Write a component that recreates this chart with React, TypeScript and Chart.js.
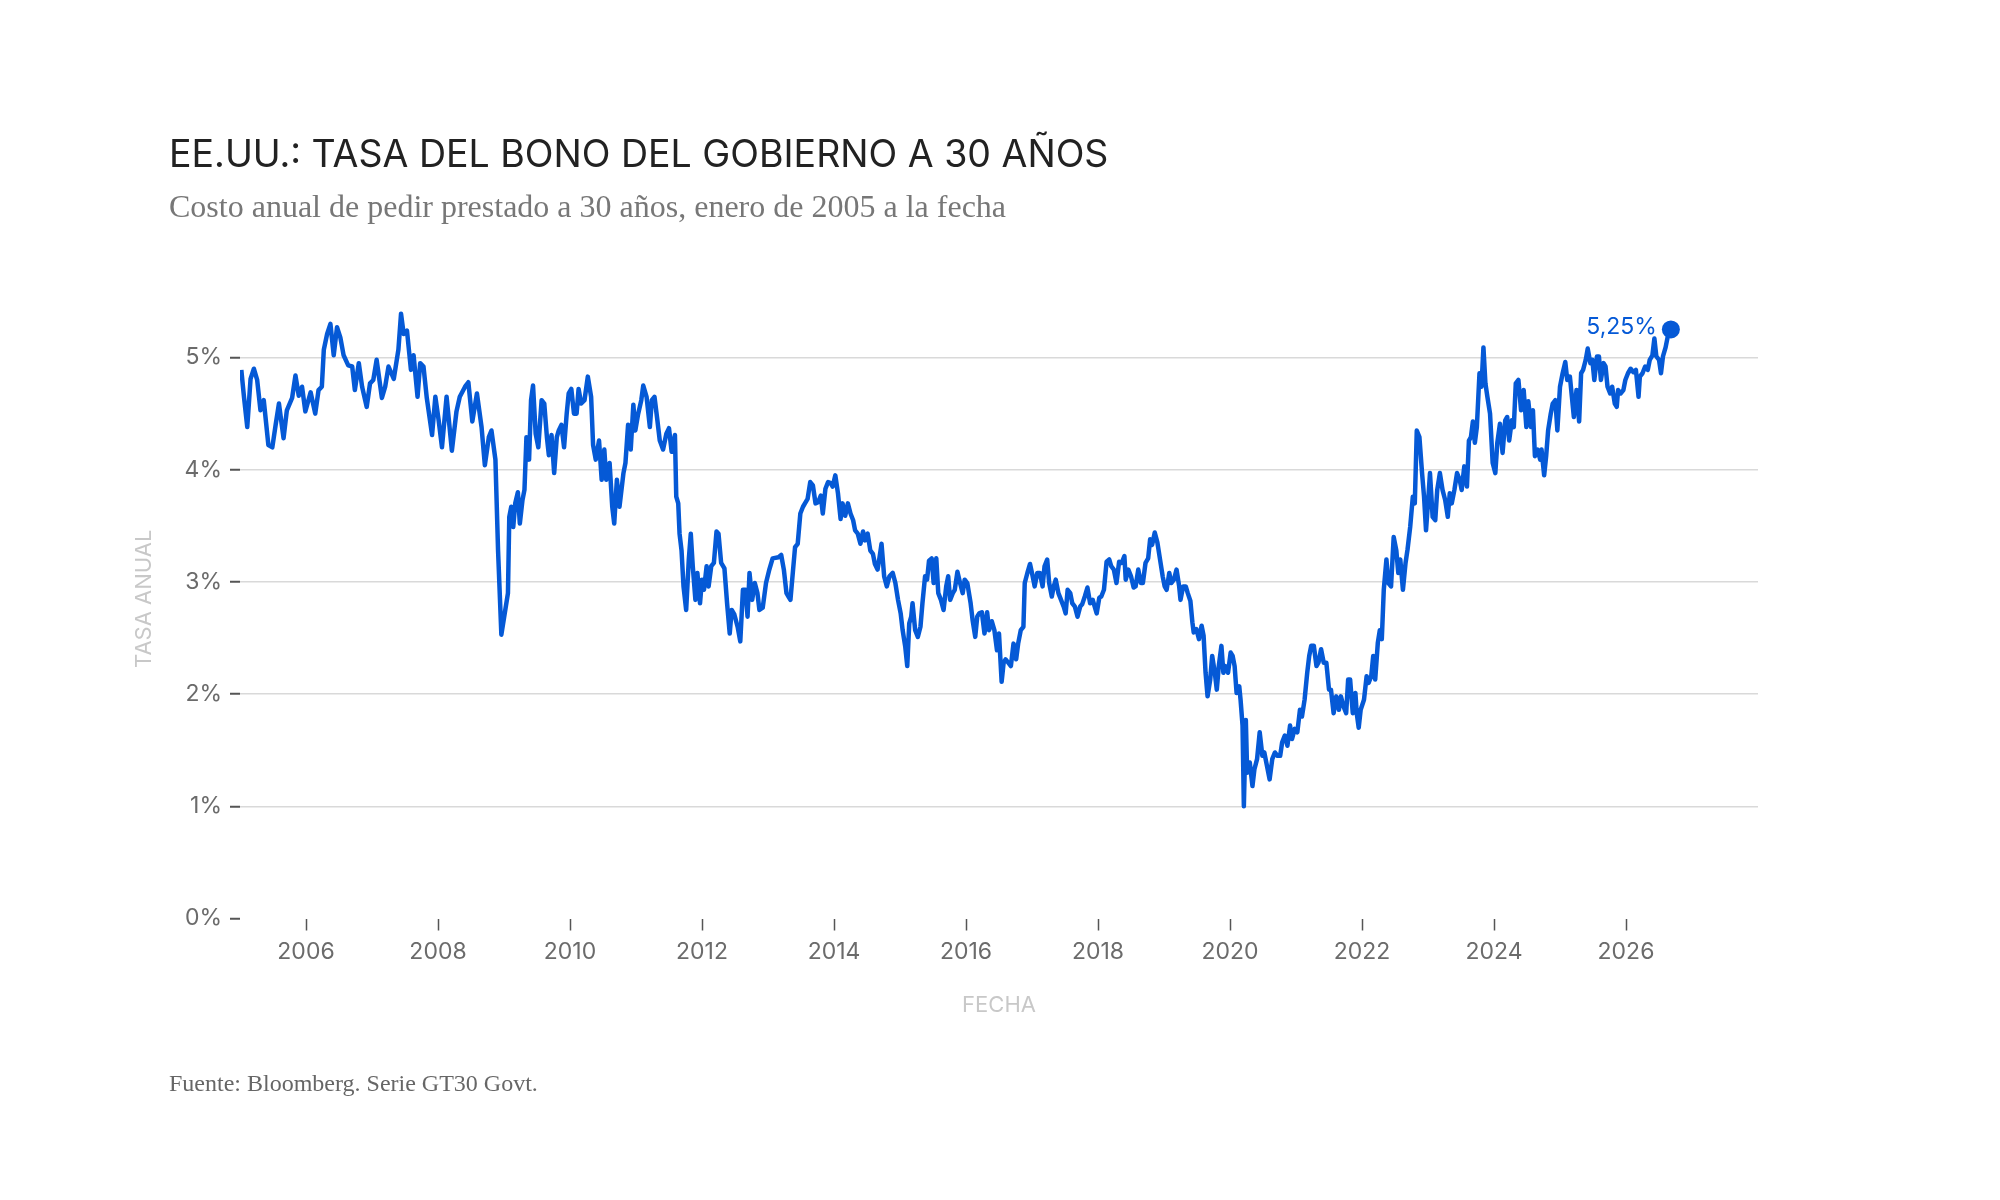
import { useEffect, useRef } from 'react';
import { Chart, registerables } from 'chart.js';

Chart.register(...registerables);

// fechas en años decimales y tasa del bono a 30 años (%)
const years = [
  2005.02, 2005.06, 2005.11, 2005.16, 2005.21, 2005.26, 2005.31, 2005.36, 2005.43, 2005.49,
  2005.54, 2005.59, 2005.66, 2005.71, 2005.79, 2005.84, 2005.89, 2005.94, 2005.99, 2006.07,
  2006.14, 2006.19, 2006.24, 2006.27, 2006.32, 2006.37, 2006.42, 2006.47, 2006.52, 2006.57,
  2006.64, 2006.70, 2006.74, 2006.80, 2006.85, 2006.92, 2006.97, 2007.02, 2007.07, 2007.15,
  2007.20, 2007.25, 2007.33, 2007.40, 2007.44, 2007.48, 2007.53, 2007.59, 2007.63, 2007.69,
  2007.73, 2007.78, 2007.83, 2007.91, 2007.96, 2008.01, 2008.06, 2008.13, 2008.21, 2008.28,
  2008.33, 2008.41, 2008.46, 2008.52, 2008.59, 2008.66, 2008.71, 2008.77, 2008.81, 2008.87,
  2008.91, 2008.96,
  2009.06, 2009.08, 2009.11, 2009.14, 2009.17, 2009.21, 2009.24, 2009.28, 2009.31, 2009.34,
  2009.38, 2009.41, 2009.44, 2009.48, 2009.52, 2009.57, 2009.61, 2009.65, 2009.68, 2009.72,
  2009.76, 2009.80, 2009.83, 2009.87, 2009.91, 2009.95, 2009.98, 2010.02, 2010.06, 2010.10,
  2010.13, 2010.17, 2010.22, 2010.27, 2010.32, 2010.35, 2010.39, 2010.44, 2010.48, 2010.52,
  2010.55, 2010.60, 2010.64, 2010.67, 2010.71, 2010.75, 2010.81, 2010.84, 2010.88, 2010.92,
  2010.96, 2010.99, 2011.03, 2011.08, 2011.11, 2011.16, 2011.21, 2011.24, 2011.28, 2011.32,
  2011.36, 2011.41, 2011.46, 2011.50, 2011.54, 2011.59, 2011.61, 2011.64, 2011.66, 2011.69,
  2011.72, 2011.76, 2011.80, 2011.83, 2011.86, 2011.90, 2011.93, 2011.97, 2012.00, 2012.03,
  2012.07, 2012.10, 2012.14, 2012.18, 2012.22, 2012.25, 2012.29, 2012.34, 2012.38, 2012.42,
  2012.45, 2012.49, 2012.54, 2012.58, 2012.62, 2012.66, 2012.69, 2012.72, 2012.76, 2012.80,
  2012.84, 2012.87, 2012.92, 2012.97, 2013.02, 2013.07,
  2013.16, 2013.20, 2013.24, 2013.28, 2013.31, 2013.34, 2013.38, 2013.41, 2013.45, 2013.49,
  2013.53, 2013.56, 2013.60, 2013.64, 2013.68, 2013.72, 2013.76, 2013.80, 2013.83, 2013.87,
  2013.91, 2013.95, 2013.98, 2014.02, 2014.06, 2014.10, 2014.13, 2014.17, 2014.21, 2014.25,
  2014.29, 2014.32, 2014.36, 2014.40, 2014.44, 2014.47, 2014.51, 2014.55, 2014.59, 2014.62,
  2014.66, 2014.69, 2014.72, 2014.76, 2014.80, 2014.84, 2014.89, 2014.93, 2014.97, 2015.01,
  2015.04, 2015.08, 2015.11, 2015.14, 2015.17, 2015.19, 2015.23, 2015.27, 2015.31, 2015.34,
  2015.38, 2015.41, 2015.44, 2015.48, 2015.51, 2015.55, 2015.58, 2015.62, 2015.66, 2015.70,
  2015.73, 2015.76, 2015.80, 2015.83, 2015.87, 2015.91, 2015.95, 2015.98, 2016.02, 2016.07,
  2016.10, 2016.14, 2016.17, 2016.20, 2016.24, 2016.28, 2016.32, 2016.35, 2016.39, 2016.43,
  2016.47, 2016.50, 2016.54, 2016.57, 2016.60, 2016.64, 2016.68, 2016.72, 2016.76, 2016.79,
  2016.83, 2016.87, 2016.89, 2016.93, 2016.97, 2017.01, 2017.04, 2017.08, 2017.12, 2017.16,
  2017.19, 2017.23, 2017.26, 2017.30, 2017.33, 2017.36, 2017.40, 2017.44, 2017.48, 2017.51,
  2017.54, 2017.58, 2017.61, 2017.65, 2017.69, 2017.73, 2017.76, 2017.80, 2017.84, 2017.88,
  2017.92, 2017.95, 2017.98, 2018.02, 2018.05, 2018.09, 2018.13, 2018.17, 2018.20, 2018.24,
  2018.28, 2018.32, 2018.36, 2018.40, 2018.42, 2018.46, 2018.50, 2018.54, 2018.57, 2018.61,
  2018.65, 2018.68, 2018.72, 2018.76, 2018.79, 2018.82, 2018.86, 2018.90, 2018.94, 2018.98,
  2019.01, 2019.04, 2019.08, 2019.11, 2019.15, 2019.19, 2019.23, 2019.25, 2019.29, 2019.33,
  2019.36, 2019.40, 2019.43, 2019.45, 2019.49, 2019.53, 2019.57, 2019.60, 2019.63, 2019.66,
  2019.70, 2019.73, 2019.77, 2019.80, 2019.83, 2019.87, 2019.90, 2019.93, 2019.97, 2020.01,
  2020.04, 2020.07, 2020.10, 2020.14, 2020.16, 2020.19, 2020.21, 2020.24, 2020.26, 2020.30,
  2020.34, 2020.37, 2020.41, 2020.45, 2020.49, 2020.52, 2020.56, 2020.60, 2020.64, 2020.68,
  2020.72, 2020.76, 2020.79, 2020.83, 2020.87, 2020.91, 2020.94, 2020.98, 2021.02, 2021.06,
  2021.09, 2021.13, 2021.17, 2021.20, 2021.23,
  2021.27, 2021.31, 2021.34, 2021.38, 2021.42, 2021.46, 2021.50, 2021.53, 2021.57, 2021.61,
  2021.65, 2021.68, 2021.72, 2021.76, 2021.79, 2021.82, 2021.86, 2021.90, 2021.92, 2021.95,
  2021.98, 2022.03, 2022.07, 2022.10, 2022.14, 2022.17, 2022.20, 2022.24, 2022.27, 2022.30,
  2022.33, 2022.37, 2022.40, 2022.44, 2022.48, 2022.52, 2022.55, 2022.58, 2022.62, 2022.66,
  2022.69, 2022.73, 2022.77, 2022.80, 2022.83, 2022.87, 2022.91, 2022.94, 2022.97, 2023.01,
  2023.03, 2023.07, 2023.11, 2023.14, 2023.18, 2023.22, 2023.26, 2023.30, 2023.33, 2023.36,
  2023.40, 2023.44, 2023.48, 2023.51, 2023.55, 2023.59, 2023.62, 2023.65, 2023.68, 2023.71,
  2023.74, 2023.78, 2023.81, 2023.84, 2023.87, 2023.90, 2023.94, 2023.98, 2024.02, 2024.05,
  2024.09, 2024.13, 2024.17, 2024.20, 2024.23, 2024.27, 2024.30, 2024.33, 2024.37, 2024.41,
  2024.45, 2024.49, 2024.52, 2024.56, 2024.59, 2024.62, 2024.66, 2024.70, 2024.72, 2024.76,
  2024.79, 2024.82, 2024.86, 2024.89, 2024.93, 2024.96, 2025.00, 2025.04, 2025.08, 2025.11,
  2025.15, 2025.18, 2025.21, 2025.25, 2025.29,
  2025.32, 2025.35, 2025.39, 2025.42, 2025.46, 2025.49, 2025.52, 2025.56, 2025.59, 2025.62,
  2025.66, 2025.69, 2025.72, 2025.76, 2025.79, 2025.83, 2025.86, 2025.88, 2025.92, 2025.96,
  2025.99, 2026.03, 2026.07, 2026.11, 2026.15, 2026.19, 2026.21, 2026.25, 2026.29, 2026.33,
  2026.36, 2026.40, 2026.43, 2026.46, 2026.50, 2026.53, 2026.56, 2026.60, 2026.63, 2026.68,
];

const rates = [
  4.89, 4.65, 4.38, 4.81, 4.90, 4.80, 4.53, 4.62, 4.22, 4.20,
  4.40, 4.59, 4.28, 4.53, 4.64, 4.84, 4.66, 4.74, 4.52, 4.69,
  4.50, 4.71, 4.74, 5.07, 5.21, 5.30, 5.02, 5.27, 5.18, 5.02,
  4.93, 4.92, 4.71, 4.95, 4.74, 4.56, 4.77, 4.80, 4.98, 4.64,
  4.74, 4.92, 4.81, 5.07, 5.39, 5.21, 5.24, 4.89, 5.02, 4.65,
  4.95, 4.92, 4.64, 4.31, 4.65, 4.44, 4.20, 4.65, 4.17, 4.52,
  4.65, 4.74, 4.78, 4.43, 4.68, 4.38, 4.04, 4.29, 4.35, 4.09,
  3.28, 2.53,
  2.90, 3.58, 3.67, 3.49, 3.70, 3.80, 3.52, 3.73, 3.82, 4.29,
  4.09, 4.62, 4.75, 4.32, 4.20, 4.62, 4.59, 4.29, 4.13, 4.31,
  3.97, 4.29, 4.35, 4.40, 4.20, 4.50, 4.68, 4.72, 4.50, 4.50,
  4.72, 4.59, 4.62, 4.83, 4.65, 4.22, 4.09, 4.26, 3.91, 4.18,
  3.91, 4.06, 3.67, 3.52, 3.91, 3.67, 3.97, 4.06, 4.40, 4.18,
  4.58, 4.35, 4.49, 4.62, 4.75, 4.65, 4.38, 4.62, 4.65, 4.46,
  4.26, 4.18, 4.32, 4.37, 4.16, 4.31, 3.76, 3.70, 3.43, 3.28,
  2.96, 2.75, 3.20, 3.43, 3.14, 2.84, 3.08, 2.81, 3.02, 2.93,
  3.14, 2.96, 3.14, 3.17, 3.45, 3.43, 3.17, 3.12, 2.81, 2.54,
  2.75, 2.71, 2.60, 2.47, 2.93, 2.93, 2.69, 3.08, 2.84, 2.99,
  2.90, 2.75, 2.77, 2.99, 3.11, 3.21,
  3.22, 3.24, 3.11, 2.90, 2.87, 2.84, 3.11, 3.31, 3.34, 3.61,
  3.67, 3.70, 3.74, 3.89, 3.86, 3.70, 3.71, 3.77, 3.61, 3.83,
  3.89, 3.88, 3.85, 3.95, 3.79, 3.56, 3.70, 3.59, 3.70, 3.61,
  3.55, 3.46, 3.43, 3.34, 3.45, 3.37, 3.43, 3.28, 3.25, 3.16,
  3.11, 3.22, 3.34, 3.05, 2.96, 3.05, 3.08, 2.99, 2.84, 2.72,
  2.57, 2.42, 2.25, 2.63, 2.69, 2.81, 2.57, 2.51, 2.60, 2.81,
  3.05, 3.02, 3.19, 3.21, 2.99, 3.21, 2.90, 2.84, 2.75, 2.96,
  3.05, 2.84, 2.90, 2.93, 3.09, 2.99, 2.90, 3.02, 2.99, 2.81,
  2.66, 2.51, 2.69, 2.72, 2.73, 2.54, 2.73, 2.57, 2.65, 2.57,
  2.39, 2.54, 2.11, 2.28, 2.31, 2.28, 2.25, 2.45, 2.31, 2.45,
  2.57, 2.60, 2.99, 3.08, 3.16, 3.05, 2.96, 3.08, 3.08, 2.96,
  3.14, 3.20, 2.99, 2.87, 2.96, 3.02, 2.90, 2.84, 2.78, 2.72,
  2.93, 2.90, 2.81, 2.78, 2.69, 2.78, 2.80, 2.87, 2.95, 2.81,
  2.84, 2.78, 2.72, 2.86, 2.87, 2.93, 3.18, 3.20, 3.14, 3.11,
  2.99, 3.18, 3.17, 3.23, 3.02, 3.11, 3.05, 2.95, 2.96, 3.11,
  2.99, 2.99, 3.17, 3.21, 3.38, 3.33, 3.44, 3.35, 3.20, 3.05,
  2.96, 2.93, 3.08, 2.99, 3.02, 3.11, 2.96, 2.84, 2.96, 2.96,
  2.90, 2.83, 2.64, 2.55, 2.58, 2.49, 2.61, 2.52, 2.19, 1.98,
  2.13, 2.34, 2.19, 2.04, 2.25, 2.43, 2.19, 2.25, 2.19, 2.37,
  2.34, 2.25, 2.01, 2.07, 1.95, 1.72, 1.00, 1.77, 1.30, 1.39,
  1.18, 1.33, 1.42, 1.66, 1.45, 1.48, 1.36, 1.24, 1.42, 1.48,
  1.45, 1.45, 1.57, 1.63, 1.54, 1.72, 1.60, 1.69, 1.66, 1.86,
  1.80, 1.95, 2.19, 2.34, 2.43,
  2.43, 2.25, 2.28, 2.40, 2.28, 2.28, 2.04, 2.04, 1.83, 1.98,
  1.86, 1.98, 1.89, 1.83, 2.13, 2.13, 1.83, 2.01, 1.83, 1.70,
  1.86, 1.95, 2.16, 2.10, 2.16, 2.34, 2.13, 2.46, 2.57, 2.49,
  2.93, 3.20, 2.99, 2.96, 3.40, 3.28, 3.08, 3.20, 2.93, 3.17,
  3.29, 3.49, 3.76, 3.70, 4.35, 4.29, 3.97, 3.76, 3.46, 3.79,
  3.97, 3.58, 3.55, 3.82, 3.97, 3.82, 3.73, 3.58, 3.79, 3.70,
  3.82, 3.97, 3.91, 3.82, 4.03, 3.85, 4.26, 4.29, 4.43, 4.24,
  4.38, 4.86, 4.74, 5.09, 4.77, 4.65, 4.50, 4.06, 3.97, 4.24,
  4.41, 4.15, 4.44, 4.47, 4.26, 4.44, 4.38, 4.77, 4.80, 4.53,
  4.71, 4.38, 4.61, 4.38, 4.53, 4.12, 4.18, 4.09, 4.18, 3.95,
  4.12, 4.35, 4.50, 4.59, 4.62, 4.35, 4.74, 4.86, 4.96, 4.80,
  4.83, 4.65, 4.47, 4.71, 4.43,
  4.86, 4.89, 4.98, 5.08, 4.95, 4.98, 4.80, 5.01, 5.01, 4.80,
  4.95, 4.92, 4.74, 4.68, 4.74, 4.59, 4.56, 4.71, 4.68, 4.71,
  4.80, 4.86, 4.90, 4.87, 4.89, 4.65, 4.83, 4.86, 4.92, 4.89,
  4.98, 5.02, 5.17, 5.01, 4.98, 4.86, 5.01, 5.09, 5.18, 5.25,
];

const xTickYears = [2006, 2008, 2010, 2012, 2014, 2016, 2018, 2020, 2022, 2024, 2026];
const yTickValues = [0, 1, 2, 3, 4, 5];

const BLUE = '#0559d6';
const FONT = 'Inter, "Noto Sans", sans-serif';
const SERIF = '"Liberation Serif", "Times New Roman", serif';

const lastPointLabel = {
  id: 'lastPointLabel',
  afterDatasetsDraw(chart: Chart) {
    const meta = chart.getDatasetMeta(0);
    const pt = meta.data[meta.data.length - 1];
    if (!pt) return;
    const last = rates[rates.length - 1];
    const ctx = chart.ctx;
    ctx.save();
    ctx.font = `23px ${FONT}`;
    ctx.fillStyle = BLUE;
    ctx.textAlign = 'right';
    ctx.textBaseline = 'middle';
    ctx.fillText(last.toFixed(2).replace('.', ',') + '%', pt.x - 14, pt.y - 2);
    ctx.restore();
  },
};

export default function App() {
  const canvasRef = useRef<HTMLCanvasElement>(null);
  const chartRef = useRef<Chart | null>(null);

  useEffect(() => {
    document.body.style.margin = '0';
    if (!canvasRef.current) return;
    const ctx = canvasRef.current.getContext('2d');
    if (!ctx) return;
    const lastIndex = rates.length - 1;

    chartRef.current = new Chart(ctx, {
      type: 'line',
      data: {
        datasets: [{
          data: years.map((x, i) => ({ x, y: rates[i] })),
          borderColor: BLUE,
          backgroundColor: BLUE,
          borderWidth: 4.5,
          borderJoinStyle: 'round',
          tension: 0,
          pointRadius: (c: any) => (c.dataIndex === lastIndex ? 9 : 0),
          pointHoverRadius: 0,
          pointBorderWidth: 0,
        }],
      },
      options: {
        animation: false,
        responsive: true,
        maintainAspectRatio: false,
        layout: { padding: { top: 279, right: 242, left: 0, bottom: 0 } },
        plugins: { legend: { display: false }, tooltip: { enabled: false } },
        scales: {
          x: {
            type: 'linear',
            min: 2005,
            max: 2028,
            afterBuildTicks: (scale: any) => {
              scale.ticks = xTickYears.map(value => ({ value }));
            },
            afterFit: (scale: any) => {
              scale.height = 281.5;
            },
            border: { display: false },
            grid: {
              drawOnChartArea: false,
              drawTicks: true,
              tickLength: 12,
              tickColor: '#555',
              tickWidth: 1.5,
            },
            ticks: {
              color: '#6b6b6b',
              font: { family: FONT, size: 23 },
              padding: 8,
              callback: (v: any) => String(v),
            },
            title: {
              display: true,
              text: 'FECHA',
              color: '#c8c8c8',
              font: { family: FONT, size: 22 },
              padding: { top: 0, bottom: 181 },
            },
          },
          y: {
            min: 0,
            max: 5.7,
            afterBuildTicks: (scale: any) => {
              scale.ticks = yTickValues.map(value => ({ value }));
            },
            afterFit: (scale: any) => {
              scale.width = 240;
            },
            border: { display: false },
            grid: {
              color: (c: any) => (c.tick && c.tick.value === 0 ? 'rgba(0,0,0,0)' : '#d9d9d9'),
              lineWidth: 1.5,
              drawTicks: true,
              tickLength: 10,
              tickColor: '#555',
              tickWidth: 2,
            },
            ticks: {
              color: '#6b6b6b',
              font: { family: FONT, size: 23 },
              padding: 8,
              callback: (v: any) => `${v}%`,
            },
            title: {
              display: true,
              text: 'TASA ANUAL',
              color: '#c8c8c8',
              font: { family: FONT, size: 22 },
              padding: { top: 131, bottom: 0 },
            },
          },
        },
      },
      plugins: [lastPointLabel],
    });

    return () => {
      if (chartRef.current) {
        chartRef.current.destroy();
        chartRef.current = null;
      }
    };
  }, []);

  return (
    <div style={{ position: 'relative', width: 2000, height: 1200, background: '#fff', overflow: 'hidden' }}>
      <div style={{ position: 'absolute', left: 0, top: 0, width: 2000, height: 1200 }}>
        <canvas ref={canvasRef}></canvas>
      </div>
      <div style={{
        position: 'absolute', left: 169, top: 135, fontFamily: FONT, fontSize: 37.5,
        lineHeight: 1, color: '#222', whiteSpace: 'nowrap',
      }}>
        EE.UU.: TASA DEL BONO DEL GOBIERNO A 30 AÑOS
      </div>
      <div style={{
        position: 'absolute', left: 169, top: 190, fontFamily: SERIF,
        fontSize: 32, lineHeight: 1, color: '#777', whiteSpace: 'nowrap',
      }}>
        Costo anual de pedir prestado a 30 años, enero de 2005 a la fecha
      </div>
      <div style={{
        position: 'absolute', left: 169, top: 1071, fontFamily: SERIF,
        fontSize: 24, lineHeight: 1, color: '#666', whiteSpace: 'nowrap',
      }}>
        Fuente: Bloomberg. Serie GT30 Govt.
      </div>
    </div>
  );
}
